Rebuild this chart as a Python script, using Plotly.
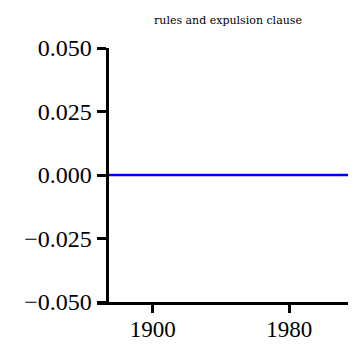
import plotly.graph_objects as go

years = [1873, 1900, 1950, 1980, 2016]
values = [0.0, 0.0, 0.0, 0.0, 0.0]
y_ticks = [-0.05, -0.025, 0.0, 0.025, 0.05]
x_ticks = [1900, 1980]
title = "rules and expulsion clause"

fig = go.Figure()
fig.add_trace(go.Scatter(x=years, y=values, mode="lines",
                         line=dict(color="#0000ff", width=2.5),
                         showlegend=False, hoverinfo="skip"))

font_family = "Liberation Serif, DejaVu Serif, serif"
x0, x1 = 1867.4, 2015.5
y_pos = (1873.0 - x0) / (x1 - x0)

# page body has an 8px margin, so the figure is shrunk by 8px on each side
W, H = 348, 337
fig.update_layout(
    width=W, height=H,
    margin=dict(l=89, r=6, t=40, b=43, autoexpand=False),
    paper_bgcolor="white", plot_bgcolor="white",
    font=dict(family=font_family, color="black"),
    title=dict(text=title, x=220 / W, xref="container", xanchor="center",
               y=1 - 12 / H, yref="container", yanchor="middle",
               automargin=False,
               font=dict(size=11, family="DejaVu Serif, serif", color="black")),
    xaxis=dict(range=[x0, x1], domain=[0, 1], tickvals=x_ticks,
               ticktext=[str(v) for v in x_ticks], automargin=False,
               showgrid=False, zeroline=False, showline=True,
               linecolor="black", linewidth=3, ticks="outside",
               ticklen=8, tickwidth=3, tickcolor="black",
               ticklabelstandoff=-4,
               tickfont=dict(size=23, family=font_family, color="black")),
    yaxis=dict(range=[-0.05, 0.05], anchor="free", position=y_pos,
               tickvals=y_ticks, tickformat=".3f", automargin=False,
               showgrid=False, zeroline=False, showline=True,
               linecolor="black", linewidth=3, ticks="outside",
               ticklen=9, tickwidth=3, tickcolor="black",
               tickfont=dict(size=24, family=font_family, color="black")),
)

fig.write_html("out.html")
